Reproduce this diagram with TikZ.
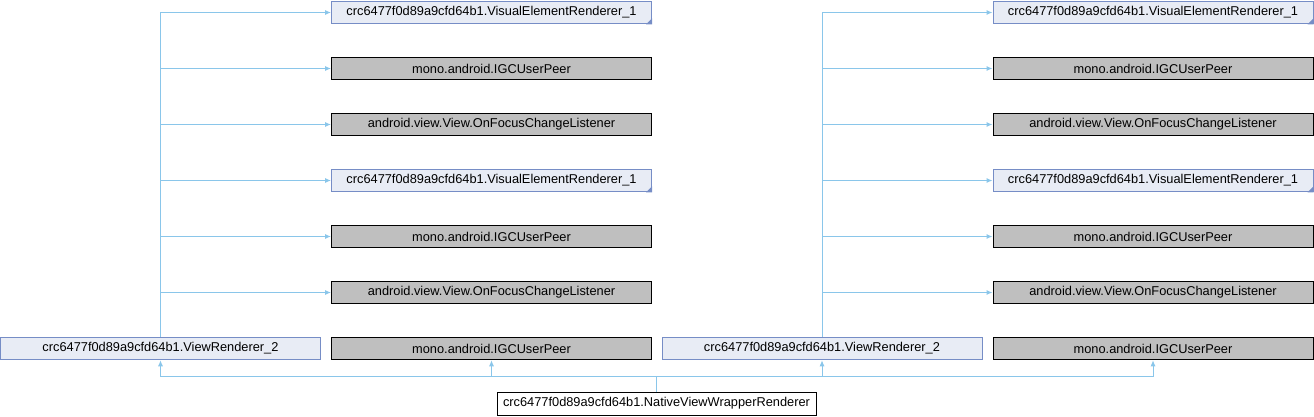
\documentclass[tikz,border=0pt]{standalone}
\usepackage{fontspec}
\setmainfont{Liberation Sans}
\usetikzlibrary{arrows.meta}
\definecolor{edgeblue}{RGB}{138,198,234}
\definecolor{clsfill}{RGB}{232,236,245}
\definecolor{clsdraw}{RGB}{118,141,198}
\definecolor{grayfill}{RGB}{191,191,191}
\begin{document}
\begin{tikzpicture}[x=1pt,y=-1pt, font=\fontsize{12.8}{14}\selectfont,
  box/.style={minimum width=320pt, minimum height=22.5pt, inner sep=0pt, line width=1pt},
  cls/.style={box, draw=clsdraw, fill=clsfill},
  ext/.style={box, draw=black, fill=grayfill},
  plainbox/.style={box, draw=black, fill=white},
  edge/.style={draw=edgeblue, line width=1pt, -{Latex[length=6pt,width=5pt]}},
  trunc/.style={fill=clsdraw}]
\useasboundingbox (0,0) rectangle (1314,416);
\foreach \s/\x/\v in {L/491.5/160.5, R/1153/822} {
  \node[cls] (\s1) at (\x,12.5) {crc6477f0d89a9cfd64b1.VisualElementRenderer\_1};
  \node[ext] (\s2) at (\x,68.5) {mono.android.IGCUserPeer};
  \node[ext] (\s3) at (\x,124.5) {android.view.View.OnFocusChangeListener};
  \node[cls] (\s4) at (\x,180.5) {crc6477f0d89a9cfd64b1.VisualElementRenderer\_1};
  \node[ext] (\s5) at (\x,236.5) {mono.android.IGCUserPeer};
  \node[ext] (\s6) at (\x,292.5) {android.view.View.OnFocusChangeListener};
  \node[cls] (vr\s) at (\v,348.5) {crc6477f0d89a9cfd64b1.ViewRenderer\_2};
  \node[ext] (g\s) at (\x,348.5) {mono.android.IGCUserPeer};
  \foreach \i in {1,...,6} \draw[edge] (vr\s.north) |- (\s\i.west);
  \foreach \i in {1,4} \fill[trunc] (\s\i.south east) -- ++(-6,0) -- ++(6,-6) -- cycle;
}
\node[plainbox, minimum width=319pt, minimum height=23pt] (nv) at (656.5,403.5) {crc6477f0d89a9cfd64b1.NativeViewWrapperRenderer};
\coordinate (j) at (656.5,376);
\foreach \t in {vrL,gL,vrR,gR} \draw[edge] (nv.north) -- (j) -| (\t.south);
\end{tikzpicture}
\end{document}
